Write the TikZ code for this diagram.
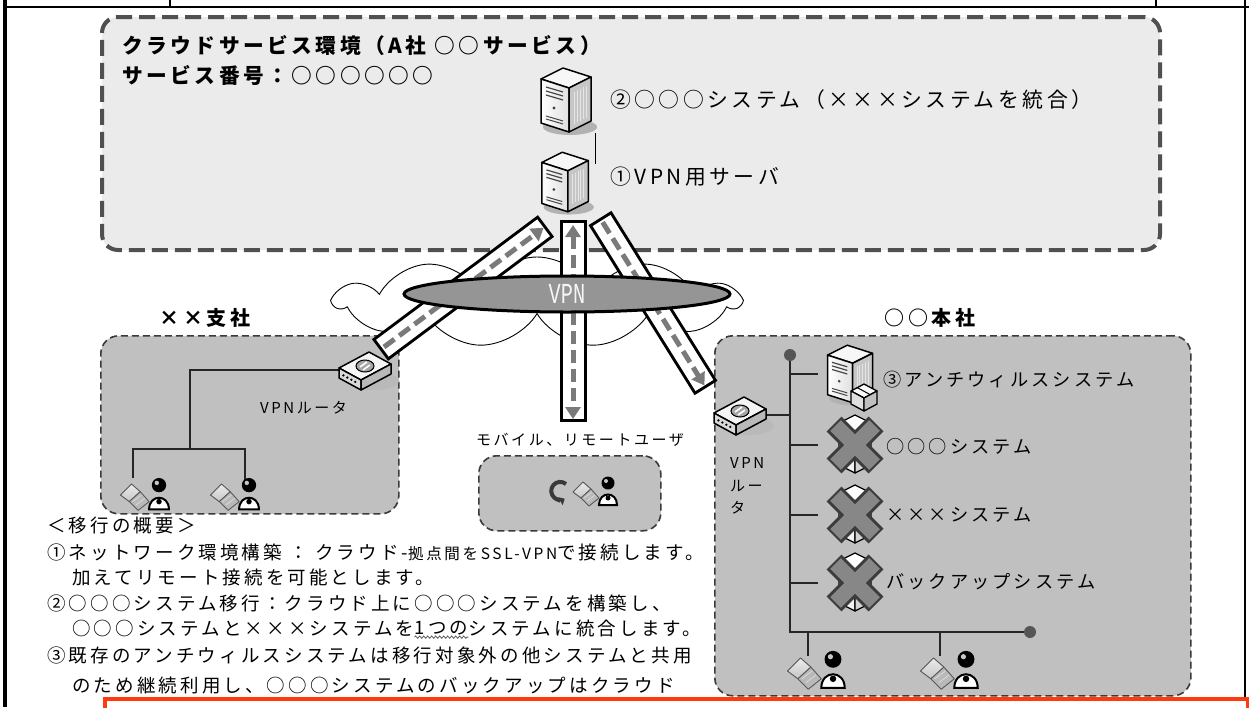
\documentclass[tikz,border=0pt]{standalone}
\usepackage{fontspec}
\setmainfont{Noto Sans CJK JP}[LetterSpace=17]
\newfontfamily\vpnfont{Liberation Mono}
\usetikzlibrary{shapes.geometric,shapes.symbols,arrows.meta,decorations.pathmorphing}

\definecolor{envfill}{HTML}{EBEBEB}
\definecolor{sitefill}{HTML}{C0C0C0}
\definecolor{envedge}{HTML}{505050}
\definecolor{siteedge}{HTML}{3A3A3A}
\definecolor{flowgray}{HTML}{7A7A7A}
\definecolor{vpnfill}{HTML}{959595}
\definecolor{xfill}{HTML}{878787}
\definecolor{xedge}{HTML}{3C3C3C}
\definecolor{dotgray}{HTML}{555555}
\definecolor{noteframe}{HTML}{FF3A10}

\tikzset{
  % isometric tower server, centred on the origin
  tower/.pic={
    \fill[gray!60] (4,27) ellipse [x radius=27pt, y radius=8pt];
    \begin{scope}[draw=black, line width=1.5pt, line join=round]
      \filldraw[fill=gray!6] (-25,-21) -- (-3,-32) -- (25,-23) -- (3,-12) -- cycle;
      \filldraw[left color=white, right color=gray!25] (-25,-21) -- (3,-12) -- (3,32) -- (-25,23) -- cycle;
      \filldraw[fill=gray!45] (3,-12) -- (25,-23) -- (25,21) -- (3,32) -- cycle;
    \end{scope}
    \draw[gray!55!black, line width=1.2pt] (-20,-13) -- (-3,-8) (-20,-9) -- (-3,-4) (-20,-5) -- (-3,0);
    \fill[gray!50!black] (-12,8) circle (1.6pt);
    \draw[gray!55!black, line width=1pt] (-20,16) -- (-3,21) (-20,19) -- (-3,24);
    \foreach \k in {0,...,4}
      \draw[gray!20, line width=1pt] (8+3*\k,-8.5-1.5*\k) -- (8+3*\k,23.5-1.5*\k);
  },
  % small package box beside the anti-virus server
  pack/.pic={
    \begin{scope}[draw=black, line width=1.3pt, line join=round]
      \filldraw[fill=gray!5] (-13,-5) -- (0,-12) -- (13,-5) -- (0,2) -- cycle;
      \filldraw[fill=gray!25] (-13,-5) -- (0,2) -- (0,15) -- (-13,8) -- cycle;
      \filldraw[fill=gray!50] (0,2) -- (13,-5) -- (13,8) -- (0,15) -- cycle;
    \end{scope}
    \draw[black, line width=1pt] (-7,-8.5) -- (6,-1.5);
  },
  % flat VPN router, centred on the origin
  router/.pic={
    \fill[gray!55] (8,11) ellipse [x radius=26pt, y radius=9pt];
    \begin{scope}[draw=black, line width=1.5pt, line join=round]
      \filldraw[fill=gray!8] (-26,-2) -- (4,-18) -- (26,-6) -- (-4,10) -- cycle;
      \filldraw[fill=gray!30] (-26,-2) -- (-4,10) -- (-4,20) -- (-26,8) -- cycle;
      \filldraw[fill=gray!55] (-4,10) -- (26,-6) -- (26,4) -- (-4,20) -- cycle;
    \end{scope}
    \filldraw[fill=gray!70, draw=black, line width=1pt] (0,-4) ellipse [x radius=9pt, y radius=6pt];
    \draw[white, line width=1.6pt] (-5,-3) -- (2,-8) (-2,0) -- (5,-5);
    \foreach \t in {0.2,0.38,0.56,0.74}
      \fill[black] (-26+22*\t,3+12*\t) circle (1.3pt);
  },
  % system being retired: a box crossed out
  dropped/.pic={
    \begin{scope}[draw=black, line width=1.2pt, line join=round]
      \filldraw[fill=white] (0,-30) -- (16,-22) -- (0,-14) -- (-16,-22) -- cycle;
      \filldraw[fill=gray!10] (-16,-22) -- (0,-14) -- (0,28) -- (-16,20) -- cycle;
      \filldraw[fill=gray!35] (0,-14) -- (16,-22) -- (16,20) -- (0,28) -- cycle;
    \end{scope}
    \draw[xedge, line width=21pt] (-21,-21) -- (21,21) (-21,21) -- (21,-21);
    \draw[xfill, line width=15pt] (-19.5,-19.5) -- (19.5,19.5) (-19.5,19.5) -- (19.5,-19.5);
  },
  % laptop with its user
  user/.pic={
    \filldraw[top color=gray!15, bottom color=gray!45, draw=black!65, line width=0.9pt, line join=round]
      (-25,0) -- (-15,-10) -- (-7,-3) -- (-17,6) -- cycle;
    \filldraw[fill=gray!55, draw=black!65, line width=0.9pt, line join=round]
      (-17,6) -- (-7,-3) -- (1,6) -- (-9,14) -- cycle;
    \draw[gray!30, line width=0.8pt] (-14,6) -- (-6,0) (-11,9) -- (-3,3);
    \filldraw[fill=white, draw=black, line width=2pt] (1,13) .. controls (1,-1) and (19,-1) .. (19,13) -- cycle;
    \fill[black] (10,6) circle (2.5pt);
    \fill[black] (10,-9) circle (6.5pt);
    \fill[gray!45] (8,-11) circle (2pt);
  },
  iconpt/.style={inner sep=0pt, minimum size=0pt},
  wire/.style={draw=black!85, line width=1.4pt},
  envbox/.style={draw=envedge, fill=envfill, line width=4pt, dash pattern=on 16pt off 7pt,
    rounded corners=16pt, inner sep=0pt, anchor=north west},
  sitebox/.style={draw=siteedge, fill=sitefill, line width=1.6pt, dash pattern=on 7pt off 4pt,
    rounded corners=18pt, inner sep=0pt, anchor=north west},
  pipeouter/.style={draw=black, line width=27pt},
  pipeinner/.style={draw=white, line width=21pt, shorten <=3pt, shorten >=3pt},
  pipeflow/.style={draw=flowgray, line width=5pt, dash pattern=on 13pt off 6pt, shorten <=5pt, shorten >=3pt},
  tip/.tip={Triangle[width=15pt,length=12pt]},
  ttl/.style={inner sep=0pt, anchor=west, font=\fontsize{20.7}{21}\selectfont\bfseries},
  head/.style={inner sep=0pt, font=\fontsize{20}{20}\selectfont\bfseries},
  lbl/.style={inner sep=0pt, anchor=west, font=\fontsize{20.8}{21}\selectfont},
  sys/.style={inner sep=0pt, anchor=west, font=\fontsize{18.2}{18}\selectfont},
  small/.style={inner sep=0pt, font=\fontsize{15}{15}\selectfont},
  note/.style={inner sep=0pt, anchor=west, font=\fontsize{18.5}{19}\selectfont},
}

\begin{document}
\begin{tikzpicture}[x=1pt, y=-1pt]
\clip (0,0) rectangle (1249,707);
\fill[white] (0,0) rectangle (1249,707);

% page frame
\fill[black] (3,0) rectangle (7,707);
\draw[line width=2.5pt] (3,7) -- (1249,7);
\draw[line width=2.5pt] (170,0) -- (170,7);
\draw[line width=2.5pt] (1156,0) -- (1156,7);
\draw[line width=2.5pt] (1245,0) -- (1245,707);

% cloud service environment
\node[envbox, minimum width=1058pt, minimum height=233pt] (env) at (100,15) {};
\node[ttl] (ttl1) at (122,46) {クラウドサービス環境（A社 ○○サービス）};
\node[ttl] (ttl2) at (122,75) {サービス番号：○○○○○○};

% sites
\node[sitebox, minimum width=298pt, minimum height=178pt] (branch) at (100,335) {};
\node[sitebox, minimum width=182pt, minimum height=75pt] (mobile) at (478,455) {};
\node[sitebox, minimum width=476pt, minimum height=360pt] (hq) at (714,335) {};
\node[head] (lbranch) at (205,318) {××支社};
\node[head] (lhq) at (930,318) {○○本社};
\node[small] (lmobile) at (580,440) {モバイル、リモートユーザ};

% internet cloud
\node[cloud, cloud puffs=11, cloud puff arc=120, aspect=4.5, draw, fill=white, line width=0.9pt,
      minimum width=404pt, minimum height=90pt, inner sep=0pt] (net) at (537,302) {};

% icon anchors
\node[iconpt] (srv2) at (566,100) {};
\node[iconpt] (srv1) at (565,182) {};
\node[iconpt] (rt1) at (365,370) {};
\node[iconpt] (rt2) at (740,415) {};
\node[iconpt] (u1) at (148,495) {};
\node[iconpt] (u2) at (238,495) {};
\node[iconpt] (mob) at (598,492) {};
\node[iconpt] (u3) at (820,671) {};
\node[iconpt] (u4) at (953,671) {};
\node[iconpt] (av) at (850,374) {};
\node[iconpt] (xs1) at (855,445) {};
\node[iconpt] (xs2) at (855,515) {};
\node[iconpt] (xs3) at (855,583) {};

% branch LAN
\coordinate (bJ) at (190,449);
\coordinate (d1) at (133,478);
\coordinate (d2) at (245,481);
\draw[wire] (rt1) -| (bJ);
\draw[wire] (d1) |- (bJ) -| (d2);

% head office LAN
\coordinate (busTop) at (790,355);
\coordinate (busCorner) at (790,632);
\coordinate (busEnd) at (1030,632);
\draw[wire] (busTop) -- (busCorner) -- (busEnd);
\fill[dotgray] (busTop) circle (6pt);
\fill[dotgray] (busEnd) circle (6pt);
\draw[wire] (rt2) -- (rt2 -| busTop);
\foreach \n in {av,xs1,xs2,xs3}
  \draw[wire] (busTop |- \n) -- ++(28,0);
\coordinate (d3) at (808,656);
\coordinate (d4) at (940,656);
\draw[wire] (d3 |- busCorner) -- (d3);
\draw[wire] (d4 |- busCorner) -- (d4);

% SSL-VPN tunnels
\coordinate (pL1) at (380,350);
\coordinate (pL2) at (546,226);
\coordinate (pM1) at (573,220);
\coordinate (pM2) at (573,422);
\coordinate (pR1) at (600,218);
\coordinate (pR2) at (706,388);
\foreach \a/\b in {pL1/pL2, pM1/pM2, pR1/pR2} {
  \draw[pipeouter] (\a) -- (\b);
  \draw[pipeinner] (\a) -- (\b);
}
\draw[pipeflow, -tip] (pL1) -- (pL2);
\draw[pipeflow, tip-tip] (pM1) -- (pM2);
\draw[pipeflow, -tip] (pR1) -- (pR2);

% VPN ring
\node[ellipse, draw=black, line width=3pt, fill=vpnfill, minimum width=326pt, minimum height=36pt,
      inner sep=0pt, text=gray!8, font=\vpnfont\fontsize{29}{29}\selectfont] (vpn) at (567,294)
      {\scalebox{0.7}[1]{VPN}};

% servers and devices
\pic at (srv2) {tower};
\pic[scale=0.93] at (srv1) {tower};
\draw[line width=1pt] ([xshift=29pt]srv2.center) ++(0,33) -- ++(0,31);
\pic at (rt1) {router};
\pic at (rt2) {router};
\pic[scale=1.1] at (u1) {user};
\pic[scale=1.1] at (u2) {user};
\pic[scale=1.3] at (u3) {user};
\pic[scale=1.3] at (u4) {user};
\pic at (mob) {user};
\draw[gray!45!black, line width=4pt, -{Triangle[width=9pt,length=5pt]}]
  ([shift={(-32,-8)}]mob.center) arc[start angle=50, end angle=300, radius=9pt];
\pic[scale=0.9] at (av) {tower};
\pic at ([shift={(14,22)}]av.center) {pack};
\pic at (xs1) {dropped};
\pic at (xs2) {dropped};
\pic at (xs3) {dropped};

% labels
\node[lbl] (lsrv2) at (610,100) {②○○○システム（×××システムを統合）};
\node[lbl] (lsrv1) at (610,177) {①VPN用サーバ};
\node[small, anchor=west] (lrt1) at (260,408) {VPNルータ};
\node[small, anchor=west] (lrt2a) at (730,463) {VPN};
\node[small, anchor=west] (lrt2b) at (730,486) {ルー};
\node[small, anchor=west] (lrt2c) at (730,508) {タ};
\node[sys] (lav) at (883,380) {③アンチウィルスシステム};
\node[sys] (lxs1) at (886,447) {○○○システム};
\node[sys] (lxs2) at (886,515) {×××システム};
\node[sys] (lxs3) at (886,582) {バックアップシステム};

% migration summary
\node[note] (n0) at (47,525) {＜移行の概要＞};
\node[note] (n1) at (47,552) {①ネットワーク環境構築 ： クラウド-{\fontsize{15.5}{16}\selectfont 拠点間をSSL-VPN}で接続します。};
\node[note] (n2) at (72,577) {加えてリモート接続を可能とします。};
\node[note] (n3) at (47,603) {②○○○システム移行：クラウド上に○○○システムを構築し、};
\node[note] (n4a) at (72,628) {○○○システムと×××システムを};
\node[note] (n4b) at (n4a.east) {1つの};
\node[note] (n4c) at (n4b.east) {システムに統合します。};
\draw[gray!70!black, line width=0.8pt, decorate, decoration={snake, amplitude=1.1pt, segment length=4pt}]
  ([yshift=-2pt]n4b.south west) -- ([yshift=-2pt]n4b.south east);
\node[note] (n5) at (47,655) {③既存のアンチウィルスシステムは移行対象外の他システムと共用};
\node[note] (n6) at (72,685) {のため継続利用し、○○○システムのバックアップはクラウド};

% callout frame at the foot
\node[draw=noteframe, fill=white, line width=3.5pt, minimum width=1143pt, minimum height=40pt,
      inner sep=0pt, anchor=north west] (callout) at (103,697) {};
\end{tikzpicture}
\end{document}
